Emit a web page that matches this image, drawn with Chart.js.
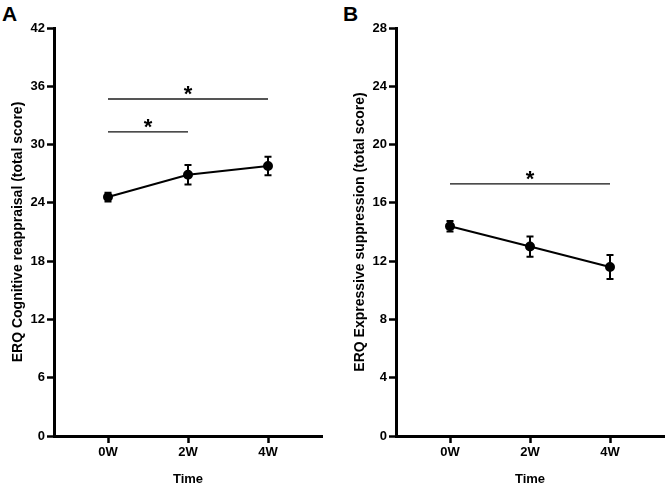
<!DOCTYPE html>
<html>
<head>
<meta charset="utf-8">
<script src="https://cdn.jsdelivr.net/npm/chart.js@4.4.1/dist/chart.umd.min.js"></script>
<style>
  body { margin: 0; background: #fff; }
  .panel { position: absolute; top: 0; width: 328px; height: 487px; }
  .letter { position: absolute; top: 2px; font: bold 21px "Liberation Sans", Arial, sans-serif; color: #000; }
</style>
</head>
<body>
<div class="letter" style="left:2px;">A</div>
<div class="letter" style="left:343px;">B</div>
<div class="panel" style="left:0px;"><canvas id="chartA" width="328" height="487"></canvas></div>
<div class="panel" style="left:342px;"><canvas id="chartB" width="328" height="487"></canvas></div>
<script>
// categories
const timeLabels = ['0W', '2W', '4W'];

// panel A - cognitive reappraisal
const reappraisalMean = [24.6, 26.9, 27.8];
const reappraisalSem = [0.45, 1.0, 0.95];
const reappraisalTicks = { max: 42, step: 6 };
const reappraisalSig = [
  { from: 0, to: 1, y: 31.3, gray: false },
  { from: 0, to: 2, y: 34.7, gray: true }
];

// panel B - expressive suppression
const suppressionMean = [14.4, 13.0, 11.6];
const suppressionSem = [0.36, 0.69, 0.82];
const suppressionTicks = { max: 28, step: 4 };
const suppressionSig = [
  { from: 0, to: 2, y: 17.3, gray: false }
];

const FONT = '"Liberation Sans", Arial, sans-serif';

// error bars + significance brackets, drawn through the chart scales
const extras = {
  id: 'extras',
  afterDatasetsDraw(chart, args, opts) {
    const { ctx, scales: { x, y } } = chart;
    ctx.save();
    ctx.strokeStyle = '#000';
    ctx.lineWidth = 2;
    opts.means.forEach((m, i) => {
      const px = x.getPixelForValue(i);
      const top = y.getPixelForValue(m + opts.sems[i]);
      const bot = y.getPixelForValue(m - opts.sems[i]);
      ctx.beginPath();
      ctx.moveTo(px, top); ctx.lineTo(px, bot);
      ctx.moveTo(px - 3.5, top); ctx.lineTo(px + 3.5, top);
      ctx.moveTo(px - 3.5, bot); ctx.lineTo(px + 3.5, bot);
      ctx.stroke();
    });
    opts.sig.forEach(s => {
      const x1 = x.getPixelForValue(s.from);
      const x2 = x.getPixelForValue(s.to);
      const py = y.getPixelForValue(s.y);
      ctx.beginPath();
      ctx.strokeStyle = s.gray ? '#555' : '#111';
      ctx.lineWidth = s.gray ? 2 : 1.3;
      ctx.moveTo(x1, py); ctx.lineTo(x2, py);
      ctx.stroke();
      ctx.fillStyle = '#000';
      ctx.font = 'bold 22px ' + FONT;
      ctx.textAlign = 'center';
      ctx.textBaseline = 'alphabetic';
      ctx.fillText('*', (x1 + x2) / 2, py + 2);
    });
    ctx.restore();
  }
};

function makeChart(id, means, sems, ticks, sig, yTitle) {
  return new Chart(document.getElementById(id).getContext('2d'), {
    type: 'line',
    data: {
      datasets: [{
        data: means.map((m, i) => ({ x: i, y: m })),
        borderColor: '#000',
        backgroundColor: '#000',
        borderWidth: 2,
        pointRadius: 4,
        pointBackgroundColor: '#000',
        tension: 0
      }]
    },
    options: {
      responsive: false,
      animation: false,
      layout: { padding: { top: 28, right: 2, left: 0, bottom: 0 } },
      plugins: {
        legend: { display: false },
        tooltip: { enabled: false },
        extras: { means: means, sems: sems, sig: sig }
      },
      scales: {
        x: {
          type: 'linear',
          min: -0.675,
          max: 2.675,
          afterBuildTicks: s => { s.ticks = timeLabels.map((_, i) => ({ value: i })); },
          afterFit: s => { s.height = 51; },
          ticks: {
            callback: v => timeLabels[v],
            color: '#000',
            font: { family: FONT, size: 13, weight: 'bold' },
            padding: 2,
            maxRotation: 0
          },
          grid: { display: true, drawOnChartArea: false, tickLength: 7, tickWidth: 2.5, tickColor: '#000' },
          border: { display: true, width: 3, color: '#000' },
          title: {
            display: true, text: 'Time', color: '#000',
            font: { family: FONT, size: 13, weight: 'bold' },
            padding: { top: 7, bottom: 0 }
          }
        },
        y: {
          min: 0,
          max: ticks.max,
          afterFit: s => { s.width = 54; },
          ticks: {
            stepSize: ticks.step,
            color: '#000',
            font: { family: FONT, size: 13, weight: 'bold' },
            padding: 2
          },
          grid: { display: true, drawOnChartArea: false, tickLength: 7, tickWidth: 2.5, tickColor: '#000' },
          border: { display: true, width: 3, color: '#000' },
          title: {
            display: true, text: yTitle, color: '#000',
            font: { family: FONT, size: 14, weight: 'bold' },
            padding: { top: 10, bottom: 0 }
          }
        }
      }
    },
    plugins: [extras]
  });
}

makeChart('chartA', reappraisalMean, reappraisalSem, reappraisalTicks, reappraisalSig,
  'ERQ Cognitive reappraisal (total score)');
makeChart('chartB', suppressionMean, suppressionSem, suppressionTicks, suppressionSig,
  'ERQ Expressive suppression (total score)');
</script>
</body>
</html>
